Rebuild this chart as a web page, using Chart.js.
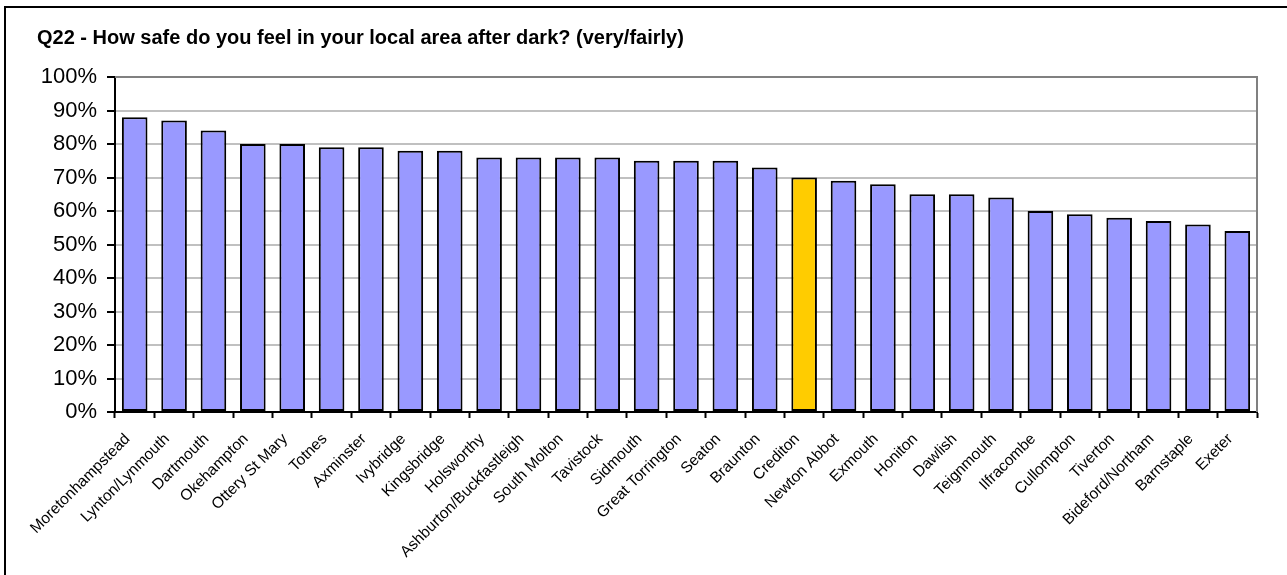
<!DOCTYPE html>
<html>
<head>
<meta charset="utf-8">
<script src="https://cdn.jsdelivr.net/npm/chart.js@4/dist/chart.umd.min.js"></script>
<style>
  html, body { margin: 0; padding: 0; background: #ffffff; }
  #wrap { position: relative; width: 1287px; height: 575px; }
</style>
</head>
<body>
<div id="wrap"><canvas id="chart" width="1287" height="575"></canvas></div>
<script>
// Share of residents feeling very/fairly safe after dark, by town
const towns = [
  'Moretonhampstead', 'Lynton/Lynmouth', 'Dartmouth', 'Okehampton', 'Ottery St Mary',
  'Totnes', 'Axminster', 'Ivybridge', 'Kingsbridge', 'Holsworthy',
  'Ashburton/Buckfastleigh', 'South Molton', 'Tavistock', 'Sidmouth', 'Great Torrington',
  'Seaton', 'Braunton', 'Crediton', 'Newton Abbot', 'Exmouth',
  'Honiton', 'Dawlish', 'Teignmouth', 'Ilfracombe', 'Cullompton',
  'Tiverton', 'Bideford/Northam', 'Barnstaple', 'Exeter'
];
const safePct = [
  88, 87, 84, 80, 80,
  79, 79, 78, 78, 76,
  76, 76, 76, 75, 75,
  75, 73, 70, 69, 68,
  65, 65, 64, 60, 59,
  58, 57, 56, 54
];
const highlightTown = 'Crediton';
const yTicks = [0, 10, 20, 30, 40, 50, 60, 70, 80, 90, 100];
const titleText = 'Q22 - How safe do you feel in your local area after dark? (very/fairly)';

const FONT = '"Liberation Sans", Arial, Helvetica, sans-serif';

const barColors = towns.map(t => t === highlightTown ? '#FFCC00' : '#9999FF');

// Outer frame, title, and the grey right-hand edge of the plot area
const framePlugin = {
  id: 'frame',
  beforeDraw(chart) {
    const ctx = chart.ctx;
    ctx.save();
    ctx.fillStyle = '#ffffff';
    ctx.fillRect(0, 0, chart.width, chart.height);
    ctx.strokeStyle = '#000000';
    ctx.lineWidth = 2;
    ctx.strokeRect(5, 7, chart.width + 20, chart.height + 20);
    ctx.fillStyle = '#000000';
    ctx.font = 'bold 20px ' + FONT;
    ctx.textBaseline = 'alphabetic';
    ctx.textAlign = 'left';
    ctx.fillText(titleText, 37, 44);
    ctx.restore();
  },
  beforeDatasetsDraw(chart) {
    const { ctx, chartArea } = chart;
    ctx.save();
    ctx.strokeStyle = '#808080';
    ctx.lineWidth = 2;
    ctx.beginPath();
    ctx.moveTo(chartArea.right, chartArea.top - 1);
    ctx.lineTo(chartArea.right, chartArea.bottom);
    ctx.moveTo(chartArea.left, chartArea.top);
    ctx.lineTo(chartArea.right + 1, chartArea.top);
    ctx.stroke();
    ctx.restore();
  }
};

new Chart(document.getElementById('chart'), {
  type: 'bar',
  data: {
    labels: towns,
    datasets: [{
      data: safePct,
      backgroundColor: barColors,
      borderColor: '#000000',
      borderWidth: 2,
      borderSkipped: false,
      barPercentage: 0.65,
      categoryPercentage: 1.0
    }]
  },
  options: {
    responsive: false,
    animation: false,
    devicePixelRatio: 1,
    layout: { padding: { left: 0, right: 30, top: 77, bottom: 0 } },
    plugins: {
      legend: { display: false },
      title: { display: false },
      tooltip: { enabled: false }
    },
    scales: {
      x: {
        offset: true,
        grid: {
          offset: true,
          drawOnChartArea: false,
          drawTicks: true,
          tickLength: 6,
          tickColor: '#000000',
          tickWidth: 2
        },
        border: { display: true, color: '#000000', width: 2 },
        ticks: {
          autoSkip: false,
          maxRotation: 45,
          minRotation: 45,
          padding: 12,
          labelOffset: -7,
          color: '#000000',
          font: { family: FONT, size: 15.5 }
        },
        afterFit(scale) { scale.height = 163; }
      },
      y: {
        min: 0,
        max: 100,
        afterBuildTicks(scale) { scale.ticks = yTicks.map(v => ({ value: v })); },
        grid: {
          color: '#c0c0c0',
          lineWidth: 2,
          drawTicks: true,
          tickLength: 8,
          tickColor: '#000000',
          tickWidth: 2
        },
        border: { display: true, color: '#000000', width: 2 },
        ticks: {
          padding: 10,
          color: '#000000',
          font: { family: FONT, size: 22 },
          callback: v => v + '%'
        },
        afterFit(scale) { scale.width = 115; }
      }
    }
  },
  plugins: [framePlugin]
});
</script>
</body>
</html>
